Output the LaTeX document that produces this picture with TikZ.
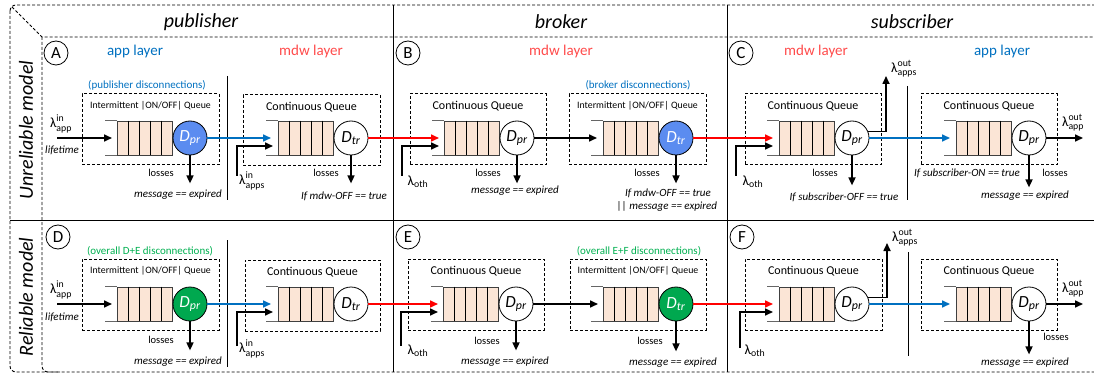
\documentclass[tikz,border=0pt]{standalone}
\usepackage{amsmath}
\usepackage{fontspec}
\setmainfont{Carlito}
\usetikzlibrary{arrows.meta, positioning, calc}

\definecolor{appblue}{HTML}{0070C0}
\definecolor{mdwred}{HTML}{FF4B4B}
\definecolor{linkred}{HTML}{FF0000}
\definecolor{srvblue}{HTML}{5B8CF0}
\definecolor{srvgreen}{HTML}{00A84F}
\definecolor{txtgreen}{HTML}{00B050}
\definecolor{cellfill}{HTML}{FBE5D6}

\tikzset{
  frame/.style={line width=0.9pt, dash pattern=on 3pt off 2pt},
  sep/.style={line width=0.9pt},
  qbox/.style={draw, line width=1pt, dash pattern=on 3pt off 2pt, minimum height=71pt, inner sep=0pt},
  qbody/.style={draw=black!75, fill=cellfill, minimum width=55pt, minimum height=34pt, inner sep=0pt, line width=0.8pt},
  srv/.style={draw, circle, minimum size=34pt, inner sep=0pt, line width=0.8pt, font=\fontsize{17}{17}\selectfont},
  tag/.style={draw, circle, minimum size=24pt, inner sep=0pt, line width=0.8pt, font=\fontsize{17}{17}\selectfont},
  flow/.style={line width=1.6pt, -{Triangle[length=8pt,width=7pt]}},
  head/.style={font=\fontsize{20}{20}\selectfont\itshape},
  layer/.style={font=\fontsize{15}{15}\selectfont},
  qtitle/.style={font=\fontsize{12}{13}\selectfont},
  ittitle/.style={font=\fontsize{9.8}{11}\selectfont},
  disc/.style={font=\fontsize{11}{12}\selectfont},
  note/.style={font=\fontsize{10.5}{11}\selectfont, inner sep=1pt},
  cond/.style={font=\fontsize{11}{12}\selectfont\itshape, inner sep=1pt},
  rate/.style={font=\fontsize{14}{14}\selectfont, inner sep=0pt},
}

\begin{document}
\begin{tikzpicture}[x=1pt,y=-1pt]
  \useasboundingbox (0,0) rectangle (1094,374);

  % table frame
  \draw[frame, rounded corners=6pt] (10,5) rectangle (1100,372);
  \draw[frame] (12,7) -- (42,37) -- (1100,37);
  \draw[frame, rounded corners=6pt] (42,37) -- (42,372) -- (60,372);
  \draw[sep] (393,5) -- (393,372);
  \draw[sep] (727,5) -- (727,372);
  \draw[sep] (10,220) -- (1100,220);
  \draw[sep] (227,76) -- (227,200);
  \draw[sep] (227,240) -- (227,367);
  \draw[sep] (907,86) -- (907,200);
  \draw[sep] (908,252) -- (908,356);

  \node[head] (hPub) at (201,22) {publisher};
  \node[head] (hBro) at (561,22) {broker};
  \node[head] (hSub) at (912,22) {subscriber};
  \node[head, rotate=90] (rowU) at (26,130) {Unreliable model};
  \node[head, rotate=90] (rowR) at (26,297) {Reliable model};

  \foreach \nm/\x/\y in {A/56/53, B/408/53, C/741/53, D/58/237, E/408/237, F/742/237}
    \node[tag] (tag\nm) at (\x,\y) {\nm};

  \node[layer, appblue] (appA) at (135,52) {app layer};
  \node[layer, mdwred] (mdwA) at (311,52) {mdw layer};
  \node[layer, mdwred] (mdwB) at (561,52) {mdw layer};
  \node[layer, mdwred] (mdwC) at (816,52) {mdw layer};
  \node[layer, appblue] (appC) at (1002,52) {app layer};

  % dashed queue boxes
  \foreach \nm/\l/\r/\y in {A1/82/219/94, B2/569/706/94, D1/82/219/259, E2/570/706/259}{
    \node[qbox, minimum width=\r-\l] (b\nm) at ({(\l+\r)/2},\y+35.5) {};
    \node[ittitle, below=4pt of b\nm.north] (t\nm) {Intermittent |ON/OFF| Queue};
  }
  \foreach \nm/\l/\r/\y in {A2/243/380/95, B1/410/546/94, C1/745/881/94, C2/921/1057/94,
      D2/245/380/260, E1/408/544/259, F1/745/882/259, F2/921/1057/259}{
    \node[qbox, minimum width=\r-\l] (b\nm) at ({(\l+\r)/2},\y+35.5) {};
    \node[qtitle, below=4pt of b\nm.north] (t\nm) {Continuous Queue};
  }

  % queues and servers
  \foreach \nm/\x/\y/\f/\tc/\s in {A1/117/138/srvblue/white/pr, A2/278/138/white/black/tr,
      B1/444/138/white/black/pr, B2/603/138/srvblue/white/tr, C1/779/138/white/black/pr,
      C2/956/138/white/black/pr, D1/117/304/srvgreen/white/pr, D2/278/304/white/black/tr,
      E1/443/304/white/black/pr, E2/603/304/srvgreen/white/tr, F1/779/304/white/black/pr,
      F2/956/304/white/black/pr}{
    \node[qbody, anchor=west] (q\nm) at (\x,\y) {};
    \foreach \k in {1,...,4}
      \draw[line width=0.8pt] ($(q\nm.north west)+(11*\k,0)$) -- ($(q\nm.south west)+(11*\k,0)$);
    \draw[black!60, line width=0.8pt] (q\nm.north west) -- ++(-12,0) (q\nm.south west) -- ++(-12,0);
    \node[srv, fill=\f, text=\tc] (d\nm) at (\x+73,\y) {$\textit{D}_{\textit{\s}}$};
  }

  \node[disc, appblue] (discA) at (147,85) {(publisher disconnections)};
  \node[disc, appblue] (discB) at (638,85) {(broker disconnections)};
  \node[disc, txtgreen] (discD) at (150,251) {(overall D+E disconnections)};
  \node[disc, txtgreen] (discE) at (639,251) {(overall E+F disconnections)};

  % unreliable row
  \coordinate (inA) at (57,138);
  \draw[flow] (inA) -- ([xshift=-5pt]qA1.west);
  \draw[flow, appblue] (dA1) -- ([xshift=-7pt]qA2.west);
  \coordinate (sA) at (237,176);
  \draw[flow] (sA) |- ([xshift=-5pt,yshift=-8pt]qA2.west);
  \draw[flow, linkred] (dA2) -- ([xshift=-5pt]qB1.west);
  \coordinate (oB) at (402,176);
  \draw[flow] (oB) |- ([xshift=-5pt,yshift=-8pt]qB1.west);
  \draw[flow] (dB1) -- ([xshift=-6pt]qB2.west);
  \draw[flow, linkred] (dB2) -- ([xshift=-6pt]qC1.west);
  \coordinate (oC) at (736,176);
  \draw[flow] (oC) |- ([xshift=-6pt,yshift=-8pt]qC1.west);
  \coordinate (uC) at (886,76);
  \draw[flow] (dC1.22) -| (uC);
  \draw[flow, appblue] (dC1) -- ([xshift=-6pt]qC2.west);
  \coordinate (outC) at (1083,138);
  \draw[flow] (dC2) -- (outC);

  % reliable row
  \coordinate (inD) at (57,304);
  \draw[flow] (inD) -- ([xshift=-5pt]qD1.west);
  \draw[flow, appblue] (dD1) -- ([xshift=-7pt]qD2.west);
  \coordinate (sD) at (237,346);
  \draw[flow] (sD) |- ([xshift=-5pt,yshift=-8pt]qD2.west);
  \draw[flow, linkred] (dD2) -- ([xshift=-5pt]qE1.west);
  \coordinate (oE) at (401,346);
  \draw[flow] (oE) |- ([xshift=-5pt,yshift=-8pt]qE1.west);
  \draw[flow] (dE1) -- ([xshift=-5pt]qE2.west);
  \draw[flow, linkred] (dE2) -- ([xshift=-6pt]qF1.west);
  \coordinate (oF) at (740,348);
  \draw[flow] (oF) |- ([xshift=-6pt,yshift=-8pt]qF1.west);
  \coordinate (uF) at (887,243);
  \draw[flow] (dF1.22) -| (uF);
  \draw[flow, appblue] (dF1) -- ([xshift=-6pt]qF2.west);
  \coordinate (outF) at (1083,304);
  \draw[flow] (dF2) -- (outF);

  % losses
  \foreach \nm/\h in {A1/28, A2/28, B1/28, B2/28, C1/30, C2/32, D1/29, E1/29, E2/30, F2/33}
    \draw[flow] (d\nm.south) -- ([yshift=-\h]d\nm.south);

  % rates
  \node[rate] (rA) at (61,124) {$\text{λ}^{\text{in}}_{\text{app}}$};
  \node[rate] (rD) at (61,290) {$\text{λ}^{\text{in}}_{\text{app}}$};
  \node[cond] (lA) at (62,150) {lifetime};
  \node[cond] (lD) at (62,317) {lifetime};
  \node[rate] (rsA) at (252,181) {$\text{λ}^{\text{in}}_{\text{apps}}$};
  \node[rate] (rsD) at (252,349) {$\text{λ}^{\text{in}}_{\text{apps}}$};
  \node[rate] (roB) at (418,182) {$\text{λ}_{\text{oth}}$};
  \node[rate] (roC) at (753,182) {$\text{λ}_{\text{oth}}$};
  \node[rate] (roE) at (418,351) {$\text{λ}_{\text{oth}}$};
  \node[rate] (roF) at (755,351) {$\text{λ}_{\text{oth}}$};
  \node[rate] (ruC) at (904,69) {$\text{λ}^{\text{out}}_{\text{apps}}$};
  \node[rate] (ruF) at (905,238) {$\text{λ}^{\text{out}}_{\text{apps}}$};
  \node[rate] (rxC) at (1073,123) {$\text{λ}^{\text{out}}_{\text{app}}$};
  \node[rate] (rxF) at (1073,289) {$\text{λ}^{\text{out}}_{\text{app}}$};

  % losses labels and conditions
  \foreach \nm/\x/\y in {A1/161/173, A2/326/173, B1/488/173, B2/647/173, C1/825/173, C2/1055/173,
      D1/161/340, E1/487/341, E2/650/341, F2/1056/337}
    \node[note] (ls\nm) at (\x,\y) {losses};
  \node[cond] (cA1) at (178,195) {message == expired};
  \node[cond] (cA2) at (344,196) {If mdw-OFF == true};
  \node[cond] (cB1) at (515,191) {message == expired};
  \node[cond] (cB2) at (668,193) {If mdw-OFF == true};
  \node[cond] (cB2b) at (667,206) {|| message == expired};
  \node[cond] (cC1) at (844,197) {If subscriber-OFF == true};
  \node[cond] (cC2a) at (967,173) {If subscriber-ON == true};
  \node[cond] (cC2) at (1025,196) {message == expired};
  \node[cond] (cD1) at (178,362) {message == expired};
  \node[cond] (cE1) at (505,362) {message == expired};
  \node[cond] (cE2) at (673,363) {message == expired};
  \node[cond] (cF2) at (1025,363) {message == expired};
\end{tikzpicture}
\end{document}
